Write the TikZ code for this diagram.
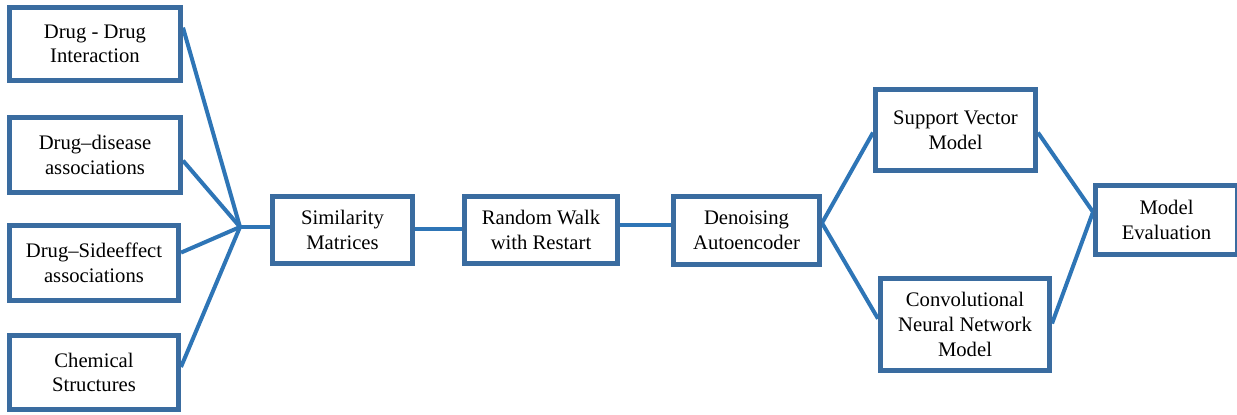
\documentclass[tikz,border=0pt]{standalone}
\usepackage{fontspec}
\setmainfont{Liberation Serif}
\usetikzlibrary{calc,backgrounds}
\definecolor{boxblue}{RGB}{58,108,160}
\definecolor{lineblue}{RGB}{46,117,182}
\begin{document}
\begin{tikzpicture}[x=0.75pt,y=-0.75pt,
  box/.style={draw=boxblue,line width=3.75pt,fill=white,inner sep=0pt,align=center,
    font=\fontsize{15.5}{18.5}\selectfont},
  sz/.style 2 args={minimum width=#1*0.75pt,minimum height=#2*0.75pt},
  link/.style={draw=lineblue,line width=3pt}]
\useasboundingbox (0,0) rectangle (1237,414);
\node[box,sz={171}{73}] (b1) at (95,44) {Drug - Drug\\Interaction};
\node[box,sz={171}{75}] (b2) at (95,155) {Drug--disease\\associations};
\node[box,sz={169}{75}] (b3) at (94,263) {Drug--Sideeffect\\associations};
\node[box,sz={169}{74}] (b4) at (94,372.5) {Chemical\\Structures};
\node[box,sz={140}{67}] (sim) at (342.5,230) {Similarity\\Matrices};
\node[box,sz={153}{67}] (rw) at (541,230) {Random Walk\\with Restart};
\node[box,sz={146}{68}] (da) at (746.5,230.5) {Denoising\\Autoencoder};
\node[box,sz={160}{81}] (sv) at (955.5,130) {Support Vector\\Model};
\node[box,sz={169}{92}] (cnn) at (965,324.5) {Convolutional\\Neural Network\\Model};
\node[box,sz={142}{69}] (me) at (1166.5,220) {Model\\Evaluation};
\coordinate (j) at (240,227);
\begin{scope}[on background layer]
\draw[link] ($(b1.north east)!0.29!(b1.south east)$) -- (j);
\draw[link] ($(b2.north east)!0.57!(b2.south east)$) -- (j);
\draw[link] ($(b3.north east)!0.37!(b3.south east)$) -- (j);
\draw[link] ($(b4.north east)!0.43!(b4.south east)$) -- (j);
\draw[link] (j) -- (j -| sim.west);
\draw[link] (sim.east |- 0,229) -- (rw.west |- 0,229);
\draw[link] (rw.east |- 0,225) -- (da.west |- 0,225);
\draw[link] ($(sv.north west)!0.53!(sv.south west)$) -- (da.east |- 0,223) -- ($(cnn.north west)!0.44!(cnn.south west)$);
\draw[link] ($(sv.north east)!0.53!(sv.south east)$) -- (me.west |- 0,212) -- ($(cnn.north east)!0.49!(cnn.south east)$);
\end{scope}
\end{tikzpicture}
\end{document}
